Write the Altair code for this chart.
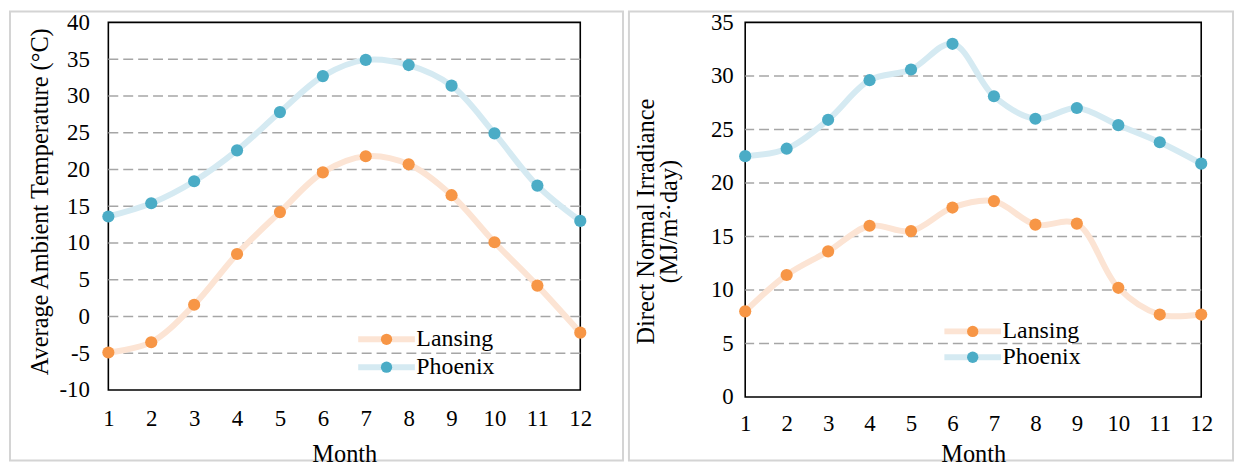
import altair as alt
import pandas as pd

months = list(range(1, 13))
cities = ["Lansing", "Phoenix"]
temp_lansing = [-4.9, -3.5, 1.6, 8.5, 14.2, 19.6, 21.8, 20.7, 16.5, 10.1, 4.2, -2.2]
temp_phoenix = [13.6, 15.4, 18.4, 22.6, 27.8, 32.7, 34.9, 34.2, 31.4, 24.9, 17.8, 13.0]
dni_lansing = [8.0, 11.4, 13.6, 16.0, 15.5, 17.7, 18.3, 16.1, 16.2, 10.2, 7.7, 7.7]
dni_phoenix = [22.5, 23.2, 25.9, 29.6, 30.6, 33.0, 28.1, 26.0, 27.0, 25.4, 23.8, 21.8]
temp_grid = [-5, 0, 5, 10, 15, 20, 25, 30, 35]
dni_grid = [5, 10, 15, 20, 25, 30]

FONT = "Liberation Serif"
TICK = 23
TITLE = 24.5
line_colors = ["#fce4d4", "#d5eaf2"]
point_colors = ["#f79646", "#4bacc6"]
LEG_PATH = "M-5,0H5"


def make_df(a, b):
    return pd.DataFrame({
        "month": months * 2,
        "value": a + b,
        "city": [cities[0]] * 12 + [cities[1]] * 12,
    })


def panel(df, grid_vals, ydom, ystep, ytitle, w, h, ylabpad, yext, ytitlepad, ytitley,
          xlabpad, xtitlepad, legx, legy, rowpad, frame):
    xs = alt.X("month:Q", scale=alt.Scale(domain=[1, 12], nice=False, zero=False),
               axis=alt.Axis(values=months, title="Month", grid=False, domain=False,
                             ticks=False, tickSize=0, labelPadding=xlabpad,
                             titlePadding=xtitlepad, labelFont=FONT, titleFont=FONT,
                             labelFontSize=TICK, titleFontSize=TITLE, labelColor="black",
                             titleColor="black", titleFontWeight="normal",
                             labelFlush=False, zindex=2))
    yaxis = alt.Axis(values=list(range(ydom[0], ydom[1] + 1, ystep)), title=ytitle,
                     grid=False, domain=False, ticks=False, tickSize=0,
                     labelExpr="toString(datum.value)",
                     labelPadding=ylabpad, minExtent=yext, maxExtent=yext,
                     titlePadding=ytitlepad, titleY=ytitley, labelFont=FONT, titleFont=FONT,
                     labelFontSize=TICK, titleFontSize=TITLE, labelColor="black",
                     titleColor="black", titleFontWeight="normal",
                     titleLineHeight=23, labelFlush=False, zindex=2)
    yscale = alt.Scale(domain=ydom, nice=False, zero=False)
    ys = alt.Y("value:Q", scale=yscale, axis=yaxis)
    border = alt.Chart(pd.DataFrame({"k": [0]})).mark_rect(
        fill="white", stroke="#d4d4d4", strokeWidth=2
    ).encode(x=alt.value(frame[0]), x2=alt.value(frame[1]),
             y=alt.value(frame[2]), y2=alt.value(frame[3]))
    plotbg = alt.Chart(pd.DataFrame({"k": [0]})).mark_rect(
        fill="white", stroke="black", strokeWidth=1.6
    ).encode(x=alt.value(0), x2=alt.value(w), y=alt.value(0), y2=alt.value(h))
    grid = alt.Chart(pd.DataFrame({"g": grid_vals})).mark_rule(
        color="#a6a6a6", strokeDash=[10, 5], strokeWidth=1.5
    ).encode(y=alt.Y("g:Q", scale=yscale, axis=yaxis, title=ytitle))
    base = alt.Chart(df)
    lines = base.mark_line(interpolate="catmull-rom", strokeWidth=6).encode(
        x=xs, y=ys,
        color=alt.Color("city:N", scale=alt.Scale(domain=cities, range=line_colors),
                        legend=alt.Legend(title=None, orient="none", legendX=legx, legendY=legy,
                                          symbolType=LEG_PATH, symbolSize=130,
                                          symbolStrokeWidth=6, symbolFillColor="transparent",
                                          labelOpacity=0, rowPadding=rowpad,
                                          labelFont=FONT, labelFontSize=24, labelOffset=18)),
    )
    pts = base.mark_point(filled=True, size=150, opacity=1).encode(
        x=xs, y=ys,
        fill=alt.Fill("city:N", scale=alt.Scale(domain=cities, range=point_colors),
                      legend=alt.Legend(title=None, orient="none", legendX=legx, legendY=legy,
                                        symbolType="circle", symbolSize=130,
                                        symbolStrokeWidth=0, rowPadding=rowpad,
                                        labelFont=FONT, labelFontSize=24, labelColor="black",
                                        labelOffset=18)),
    )
    return alt.layer(border, plotbg, grid, lines, pts).resolve_scale(
        color="independent", fill="independent"
    ).properties(width=w, height=h)


left = panel(make_df(temp_lansing, temp_phoenix), temp_grid, [-10, 40], 5,
             "Average Ambient Temperature (°C)", 475, 370, 19, 50, 6, 180, 18, 12,
             268, 307, 4, (-99, 518, -11, 441))
right = panel(make_df(dni_lansing, dni_phoenix), dni_grid, [0, 35], 5,
              ["Direct Normal Irradiance", "(MJ/m²·day)"], 459, 377, 12, 40, 24, 200, 16, 7,
              217, 299, 2, (-117, 491, -11, 441))

chart = alt.hconcat(left, right, spacing=2).properties(
    padding=0
).configure_view(stroke=None).configure(background="white")

chart.save("out.html", embed_options={"renderer": "svg", "actions": False})
